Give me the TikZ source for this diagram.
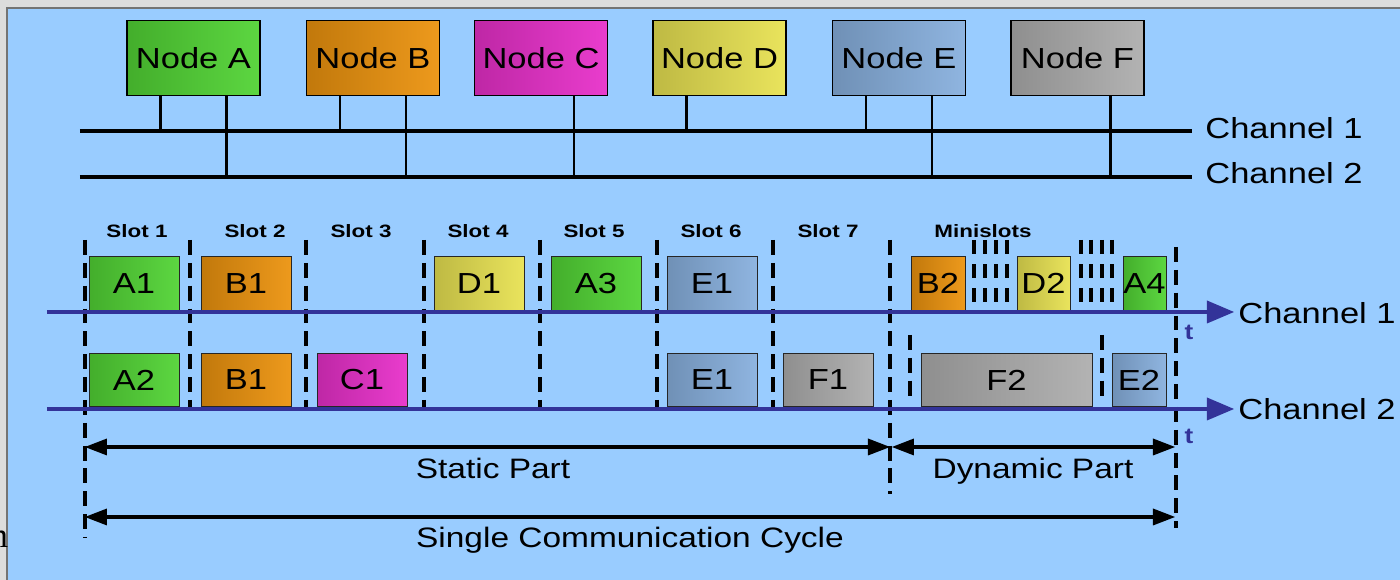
\documentclass[tikz,border=0pt]{standalone}
\usepackage{fontspec}
\setmainfont{Liberation Sans}[FakeStretch=1.19]
\newfontfamily\slotfont{Liberation Sans}[FakeStretch=1.25]
\newfontfamily\edgefont{Liberation Serif}
\definecolor{bgblue}{HTML}{99CCFF}
\definecolor{edgegray}{HTML}{DCDCDC}
\definecolor{axisblue}{HTML}{333399}
\definecolor{cgreen}{HTML}{52D435}
\definecolor{corange}{HTML}{EC930E}
\definecolor{cmagenta}{HTML}{E830CA}
\definecolor{cyellow}{HTML}{E8E252}
\definecolor{cblue}{HTML}{88B0DE}
\definecolor{cgray}{HTML}{AEAEAE}
\tikzset{
  station/.style={draw=black, line width=0.6pt, minimum width=2.66cm, minimum height=1.5cm,
    left color=#1!82!black, right color=#1!94!white, font=\fontsize{16.5}{19}\selectfont},
  msgbox/.style={draw=black!85, line width=0.5pt, minimum width=1.8cm, minimum height=1.07cm,
    left color=#1!82!black, right color=#1!94!white, font=\fontsize{16.5}{19}\selectfont},
  bus/.style={line width=2.3pt},
  stub/.style={line width=1.7pt},
  timeaxis/.style={axisblue, line width=2.8pt},
  slotline/.style={line width=2.8pt, dash pattern=on 8.5pt off 4.5pt},
  minimark/.style={line width=2.3pt, dash pattern=on 8pt off 5.7pt},
  dimline/.style={line width=2.3pt, shorten <=0.3cm, shorten >=0.3cm},
  slotlabel/.style={font=\slotfont\bfseries\fontsize{10.2}{12}\selectfont},
  partlabel/.style={anchor=base, font=\fontsize{16}{19}\selectfont},
  chanlabel/.style={anchor=west, font=\fontsize{16.5}{19}\selectfont},
  tmark/.style={text=axisblue, font=\bfseries\fontsize{12.5}{14}\selectfont}
}

\begin{document}
\begin{tikzpicture}[scale=0.2]
\tikzstyle{every node}+=[inner sep=0pt]
\useasboundingbox (0,0) rectangle (140,-58);
% frame of the slide
\fill [edgegray] (0,0) rectangle (140,-58);
\fill [bgblue] (0.7,-0.8) rectangle (140,-58);
\draw [black!55, line width=0.6pt] (0.7,-58) -- (0.7,-0.8) -- (140,-0.8);
\draw (0.85,-54.8) node [anchor=base east, font=\edgefont\fontsize{20}{24}\selectfont] (cut) {m};
% the six nodes
\draw (19.35,-5.8) node [station=cgreen] (nA) {Node A};
\draw (37.3,-5.8) node [station=corange] (nB) {Node B};
\draw (54.1,-5.8) node [station=cmagenta] (nC) {Node C};
\draw (71.95,-5.8) node [station=cyellow] (nD) {Node D};
\draw (89.9,-5.8) node [station=cblue] (nE) {Node E};
\draw (107.75,-5.8) node [station=cgray] (nF) {Node F};
% the two buses
\coordinate (bus1w) at (8,-13.1);
\coordinate (bus1e) at (119.2,-13.1);
\coordinate (bus2w) at (8,-17.7);
\coordinate (bus2e) at (119.2,-17.7);
\draw [bus] (bus1w) -- (bus1e);
\draw [bus] (bus2w) -- (bus2e);
\draw (120.5,-12.8) node [chanlabel] (bus1) {Channel 1};
\draw (120.5,-17.3) node [chanlabel] (bus2) {Channel 2};
% (shifts are scaled by 0.2 as well)
\draw [stub] ([xshift=-3.3cm]nA.south) -- ([xshift=-3.3cm]nA.south |- bus1w);
\draw [stub] ([xshift=3.3cm]nA.south) -- ([xshift=3.3cm]nA.south |- bus2w);
\draw [stub] ([xshift=-3.3cm]nB.south) -- ([xshift=-3.3cm]nB.south |- bus1w);
\draw [stub] ([xshift=3.3cm]nB.south) -- ([xshift=3.3cm]nB.south |- bus2w);
\draw [stub] ([xshift=3.3cm]nC.south) -- ([xshift=3.3cm]nC.south |- bus2w);
\draw [stub] ([xshift=-3.3cm]nD.south) -- ([xshift=-3.3cm]nD.south |- bus1w);
\draw [stub] ([xshift=-3.3cm]nE.south) -- ([xshift=-3.3cm]nE.south |- bus1w);
\draw [stub] ([xshift=3.3cm]nE.south) -- ([xshift=3.3cm]nE.south |- bus2w);
\draw [stub] ([xshift=3.3cm]nF.south) -- ([xshift=3.3cm]nF.south |- bus2w);
% slot names
\draw (13.7,-23.1) node [slotlabel] (sl1) {Slot 1};
\draw (25.5,-23.1) node [slotlabel] (sl2) {Slot 2};
\draw (36.1,-23.1) node [slotlabel] (sl3) {Slot 3};
\draw (47.8,-23.1) node [slotlabel] (sl4) {Slot 4};
\draw (59.4,-23.1) node [slotlabel] (sl5) {Slot 5};
\draw (71.1,-23.1) node [slotlabel] (sl6) {Slot 6};
\draw (82.8,-23.1) node [slotlabel] (sl7) {Slot 7};
\draw (98.3,-23.1) node [slotlabel] (msl) {Minislots};
% slot boundaries
\draw [slotline] (8.5,-24) -- (8.5,-53.8);
\draw [slotline] (19,-24) -- (19,-40.8);
\draw [slotline] (30.6,-24) -- (30.6,-40.8);
\draw [slotline] (42.4,-24) -- (42.4,-40.8);
\draw [slotline] (54,-24) -- (54,-40.8);
\draw [slotline] (65.7,-24) -- (65.7,-40.8);
\draw [slotline] (77.3,-24) -- (77.3,-40.8);
\draw [slotline] (89,-24) -- (89,-49.4);
\draw [slotline] (117.6,-24.7) -- (117.6,-52.8);
\draw [slotline] (91,-33.5) -- (91,-39.8);
\draw [slotline] (110.2,-33.5) -- (110.2,-39.8);
% minislots
\draw [minimark] (97.4,-24) -- (97.4,-30.4);
\draw [minimark] (98.5,-24) -- (98.5,-30.4);
\draw [minimark] (99.6,-24) -- (99.6,-30.4);
\draw [minimark] (100.7,-24) -- (100.7,-30.4);
\draw [minimark] (108.1,-24) -- (108.1,-30.4);
\draw [minimark] (109.1,-24) -- (109.1,-30.4);
\draw [minimark] (110.2,-24) -- (110.2,-30.4);
\draw [minimark] (111.2,-24) -- (111.2,-30.4);
% channel 1 frames
\draw (13.4,-28.35) node [msgbox=cgreen] (fA1) {A1};
\draw (24.6,-28.35) node [msgbox=corange] (fB1) {B1};
\draw (47.9,-28.35) node [msgbox=cyellow] (fD1) {D1};
\draw (59.6,-28.35) node [msgbox=cgreen] (fA3) {A3};
\draw (71.2,-28.35) node [msgbox=cblue] (fE1) {E1};
\draw (93.8,-28.35) node [msgbox=corange, minimum width=1.08cm] (fB2) {B2};
\draw (104.35,-28.35) node [msgbox=cyellow, minimum width=1.06cm] (fD2) {D2};
\draw (114.45,-28.35) node [msgbox=cgreen, minimum width=0.86cm] (fA4) {A4};
% channel 2 frames
\draw (13.4,-38) node [msgbox=cgreen] (gA2) {A2};
\draw (24.6,-38) node [msgbox=corange] (gB1) {B1};
\draw (36.2,-38) node [msgbox=cmagenta] (gC1) {C1};
\draw (71.2,-38) node [msgbox=cblue] (gE1) {E1};
\draw (82.8,-38) node [msgbox=cgray] (gF1) {F1};
\draw (100.65,-38) node [msgbox=cgray, minimum width=3.42cm] (gF2) {F2};
\draw (113.9,-38) node [msgbox=cblue, minimum width=1.08cm] (gE2) {E2};
% time axes
\coordinate (ax1w) at (4.7,-31.2);
\coordinate (ax1e) at (123.4,-31.2);
\coordinate (ax2w) at (4.7,-40.9);
\coordinate (ax2e) at (123.4,-40.9);
\draw [timeaxis] (ax1w) -- ([xshift=-1.5cm]ax1e);
\fill [axisblue] (ax1e) -- ++(-2.7,1.15) -- ++(0,-2.3) -- cycle;
\draw [timeaxis] (ax2w) -- ([xshift=-1.5cm]ax2e);
\fill [axisblue] (ax2e) -- ++(-2.7,1.15) -- ++(0,-2.3) -- cycle;
\draw (123.8,-31.3) node [chanlabel] (tl1) {Channel 1};
\draw (123.8,-40.9) node [chanlabel] (tl2) {Channel 2};
\draw (118.9,-33.2) node [tmark] (t1) {t};
\draw (118.9,-43.6) node [tmark] (t2) {t};
% static / dynamic / cycle
\coordinate (st0) at (8.5,-44.7);
\coordinate (st7) at (89,-44.7);
\coordinate (dy7) at (89.2,-44.7);
\coordinate (dy8) at (117.5,-44.7);
\coordinate (cy0) at (8.5,-51.7);
\coordinate (cy8) at (117.5,-51.7);
\draw [dimline] (st0) -- (st7);
\fill (st0) -- ++(2.2,0.85) -- ++(0,-1.7) -- cycle;
\fill (st7) -- ++(-2.2,0.85) -- ++(0,-1.7) -- cycle;
\draw [dimline] (dy7) -- (dy8);
\fill (dy7) -- ++(2.2,0.85) -- ++(0,-1.7) -- cycle;
\fill (dy8) -- ++(-2.2,0.85) -- ++(0,-1.7) -- cycle;
\draw [dimline] (cy0) -- (cy8);
\fill (cy0) -- ++(2.2,0.85) -- ++(0,-1.7) -- cycle;
\fill (cy8) -- ++(-2.2,0.85) -- ++(0,-1.7) -- cycle;
\draw (49.3,-47.9) node [partlabel] (stl) {Static Part};
\draw (103.3,-47.9) node [partlabel] (dyl) {Dynamic Part};
\draw (63,-54.8) node [partlabel] (cyl) {Single Communication Cycle};
\end{tikzpicture}
\end{document}
